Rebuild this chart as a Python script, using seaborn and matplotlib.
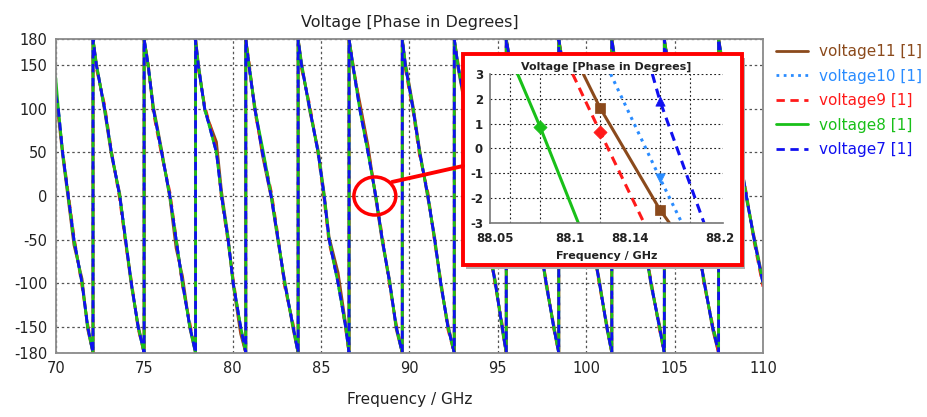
import matplotlib
matplotlib.use("Agg")
import matplotlib.pyplot as plt
import seaborn as sns
import pandas as pd
from matplotlib.patches import Rectangle, Ellipse
from matplotlib.lines import Line2D

# ---------------- data ----------------
freq_ghz = [
    70.00, 70.15, 70.39, 70.71, 71.03, 71.49, 71.81, 72.11,
    72.11, 72.30, 72.77, 73.15, 73.62, 73.95, 74.28, 74.66, 75.00,
    75.00, 75.23, 75.52, 75.99, 76.46, 76.81, 77.17, 77.59, 77.91,
    77.91, 78.06, 78.43, 79.09, 79.38, 79.75, 80.04, 80.46, 80.75,
    80.75, 80.94, 81.26, 81.69, 82.20, 82.58, 82.95, 83.43, 83.71,
    83.71, 83.90, 84.37, 84.84, 85.18, 85.46, 85.97, 86.40, 86.59,
    86.59, 86.81, 87.19, 87.66, 88.10, 88.47, 88.89, 89.26, 89.60,
    89.60, 89.77, 90.21, 90.58, 91.05, 91.43, 91.78, 92.18, 92.54,
    92.54, 92.75, 93.20, 93.60, 94.00, 94.42, 94.86, 95.25, 95.48,
    95.48, 95.72, 96.15, 96.55, 96.95, 97.35, 97.74, 98.16, 98.45,
    98.45, 98.68, 99.10, 99.50, 99.92, 100.33, 100.75, 101.17, 101.45,
    101.45, 101.66, 102.06, 102.46, 102.86, 103.26, 103.67, 104.14, 104.42,
    104.42, 104.64, 105.03, 105.45, 105.86, 106.27, 106.68, 107.15, 107.49,
    107.49, 107.72, 108.20, 108.64, 109.06, 109.50, 110.00,
]

phase_v11 = [
    104, 92, 47, -4, -56, -95, -153, -180,
    180, 152, 97, 47, 3, -52, -103, -148, -180,
    180, 148, 103, 53, -3, -60, -92, -152, -180,
    180, 153, 98, 62, 5, -47, -102, -158, -180,
    180, 147, 103, 47, -3, -53, -97, -153, -180,
    180, 153, 97, 53, 3, -47, -88, -147, -180,
    180, 147, 108, 58, -3, -53, -97, -153, -180,
    180, 153, 103, 53, -3, -47, -103, -147, -180,
    180, 147, 97, 47, 3, -53, -97, -153, -180,
    180, 153, 103, 53, -3, -47, -103, -147, -180,
    180, 147, 97, 47, 3, -53, -97, -152, -180,
    180, 153, 103, 53, -3, -47, -103, -147, -180,
    180, 147, 97, 47, 3, -53, -97, -153, -180,
    180, 153, 103, 53, -3, -47, -97,
]

phase_v10 = [
    118, 98, 50, 1, -49, -100, -150, -180,
    180, 151, 99, 50, 1, -49, -101, -150, -180,
    180, 149, 101, 50, -1, -50, -99, -151, -180,
    180, 151, 99, 51, 1, -49, -101, -150, -180,
    180, 149, 101, 50, -1, -51, -99, -150, -180,
    180, 151, 99, 50, 1, -49, -101, -151, -180,
    180, 149, 101, 51, -1, -50, -99, -150, -180,
    180, 151, 99, 50, 1, -51, -101, -149, -180,
    180, 149, 101, 50, -1, -49, -99, -151, -180,
    180, 151, 99, 51, 1, -50, -101, -150, -180,
    180, 149, 101, 50, -1, -51, -99, -149, -180,
    180, 151, 99, 49, 1, -49, -101, -151, -180,
    180, 149, 101, 50, -1, -50, -99, -150, -180,
    180, 151, 99, 50, 1, -49, -101,
]

phase_v9 = [
    122, 95, 52, 3, -46, -104, -147, -180,
    180, 146, 104, 52, -4, -54, -97, -152, -180,
    180, 152, 96, 47, 4, -48, -103, -146, -180,
    180, 146, 103, 54, -3, -53, -96, -153, -180,
    180, 153, 97, 52, 4, -47, -104, -147, -180,
    180, 146, 104, 48, -4, -54, -96, -153, -180,
    180, 152, 104, 54, 0, -46, -104, -147, -180,
    180, 146, 97, 46, 4, -53, -97, -153, -180,
    180, 153, 103, 53, -3, -47, -103, -147, -180,
    180, 147, 97, 47, 3, -53, -97, -152, -180,
    180, 153, 103, 53, -3, -47, -103, -148, -180,
    180, 147, 97, 47, 4, -53, -97, -153, -180,
    180, 152, 103, 53, -3, -47, -103, -147, -180,
    180, 147, 97, 47, 3, -53, -104,
]

phase_v8 = [
    136, 100, 50, 0, -50, -100, -150, -180,
    180, 150, 100, 50, 0, -50, -100, -150, -180,
    180, 150, 100, 50, 0, -50, -100, -150, -180,
    180, 150, 100, 50, 0, -50, -100, -150, -180,
    180, 150, 100, 56, 0, -50, -100, -150, -180,
    180, 150, 100, 50, 0, -50, -100, -150, -180,
    180, 150, 100, 50, 0, -50, -100, -150, -180,
    180, 150, 100, 50, 0, -50, -100, -150, -180,
    180, 150, 100, 50, 0, -50, -100, -150, -180,
    180, 150, 100, 50, 0, -50, -100, -150, -180,
    180, 150, 100, 50, 0, -50, -100, -150, -180,
    180, 150, 100, 50, 0, -50, -100, -150, -180,
    180, 150, 100, 50, 0, -50, -100, -150, -174,
    180, 150, 100, 50, 0, -50, -100,
]

phase_v7 = [
    116, 100, 50, 0, -50, -100, -150, -180,
    180, 150, 100, 50, 0, -50, -100, -150, -180,
    180, 150, 100, 50, 0, -50, -100, -150, -180,
    180, 150, 100, 50, 0, -50, -100, -150, -180,
    180, 148, 100, 50, -2, -50, -100, -150, -180,
    180, 150, 100, 50, 0, -50, -100, -150, -180,
    180, 150, 100, 50, 0, -50, -100, -150, -180,
    180, 150, 100, 50, 0, -50, -100, -150, -180,
    180, 150, 100, 50, 0, -50, -100, -150, -180,
    180, 150, 100, 50, 0, -50, -100, -150, -180,
    180, 150, 100, 50, 0, -50, -100, -150, -180,
    180, 150, 100, 50, 0, -50, -100, -150, -180,
    180, 150, 100, 50, 0, -50, -100, -150, -180,
    180, 150, 100, 50, 0, -50, -100,
]

# zoomed inset (around 88.1 GHz, +-3 degrees)
inset_f_v11 = [88.1089, 88.12, 88.16, 88.1662]
inset_p_v11 = [3.0, 1.64, -2.48, -3.0]
inset_f_v10 = [88.1271, 88.16, 88.1745]
inset_p_v10 = [3.0, -1.21, -3.0]
inset_f_v9 = [88.1018, 88.12, 88.1493]
inset_p_v9 = [3.0, 0.67, -3.0]
inset_f_v8 = [88.0651, 88.08, 88.1055]
inset_p_v8 = [3.0, 0.88, -3.0]
inset_f_v7 = [88.1549, 88.16, 88.1893]
inset_p_v7 = [3.0, 1.91, -3.0]

series_labels = ["voltage11 [1]", "voltage10 [1]", "voltage9 [1]", "voltage8 [1]", "voltage7 [1]"]
series_colors = ["#8B4A1C", "#2A8CFF", "#FF1A1A", "#19C019", "#1010F0"]
series_styles = ["-", (0, (1, 1.6)), (0, (3, 2)), "-", (0, (3, 2))]
main_phases = [phase_v11, phase_v10, phase_v9, phase_v8, phase_v7]
inset_fs = [inset_f_v11, inset_f_v10, inset_f_v9, inset_f_v8, inset_f_v7]
inset_ps = [inset_p_v11, inset_p_v10, inset_p_v9, inset_p_v8, inset_p_v7]
inset_markers = ["s", "v", "D", "D", "^"]
inset_marker_idx = [[1, 2], [1], [1], [1], [1]]

main_xticks = [70, 75, 80, 85, 90, 95, 100, 105, 110]
main_yticks = [-180, -150, -100, -50, 0, 50, 100, 150, 180]
inset_xlabels = [88.05, 88.1, 88.14, 88.2]
inset_xgrid = [88.06, 88.08, 88.10, 88.12, 88.14, 88.16, 88.18]
inset_yticks = [-3, -2, -1, 0, 1, 2, 3]

# ---------------- figure ----------------
sns.set_theme(style="white")
plt.rcParams["font.family"] = ["DejaVu Sans"]
plt.rcParams["axes.unicode_minus"] = False

W, H = 928, 417
fig = plt.figure(figsize=(W / 100, H / 100), dpi=100)

def fx(px):
    return px / W

def fy(py):
    return 1 - py / H

ax = fig.add_axes([fx(55.7), fy(353), fx(763) - fx(55.7), fy(39) - fy(353)])
grid_kw = dict(color="#555555", linewidth=0.9, linestyle=(0, (2, 2.2)))

for lbl, col, ls, ph in zip(series_labels, series_colors, series_styles, main_phases):
    df = pd.DataFrame({"f": freq_ghz, "p": ph})
    sns.lineplot(data=df, x="f", y="p", ax=ax, color=col, linestyle=ls,
                 linewidth=2.0, sort=False, estimator=None, legend=False)

ax.set_xlim(70, 110)
ax.set_ylim(-180, 180)
ax.set_xticks(main_xticks)
ax.set_yticks(main_yticks)
ax.grid(True, **grid_kw)
for s in ax.spines.values():
    s.set_color("#8a8a8a")
    s.set_linewidth(1.3)
ax.tick_params(direction="out", length=4, width=1, color="#8a8a8a",
               labelsize=10.5, labelcolor="#222222", pad=2)
ax.set_xlabel("Frequency / GHz", fontsize=11, color="#222222", labelpad=11)
ax.set_ylabel("")
ax.set_title("Voltage [Phase in Degrees]", fontsize=11.5, color="#222222", pad=9)

# legend
handles = [Line2D([0], [0], color=c, linestyle=ls, linewidth=2.0)
           for c, ls in zip(series_colors, series_styles)]
leg = fig.legend(handles, series_labels, loc="upper left",
                 bbox_to_anchor=(fx(770), fy(38)), frameon=False,
                 fontsize=11, handlelength=2.1, handletextpad=0.7,
                 labelspacing=0.62, borderaxespad=0)
for t, c in zip(leg.get_texts(), series_colors):
    t.set_color(c)

# red circle and connector
circ = Ellipse((88.05, 0), width=2.37, height=43.6, fill=False,
               edgecolor="#FF0000", linewidth=2.5, zorder=10, clip_on=False)
ax.add_patch(circ)
fig.add_artist(Line2D([fx(392), fx(463)], [fy(182), fy(166)],
                      color="#FF0000", linewidth=2.8, zorder=3))

# inset frame (shadow + white box with red edge)
fig.add_artist(Rectangle((fx(466), fy(269)), fx(742) - fx(463), fy(54) - fy(265),
                         transform=fig.transFigure, facecolor="#b0b0b0",
                         edgecolor="none", zorder=1.5))
fig.add_artist(Rectangle((fx(463), fy(265)), fx(742) - fx(463), fy(54) - fy(265),
                         transform=fig.transFigure, facecolor="white",
                         edgecolor="#FF0000", linewidth=2.8, zorder=2))

ins = fig.add_axes([fx(490), fy(222.7), fx(722.7) - fx(490), fy(74) - fy(222.7)],
                   zorder=4)
ins.set_facecolor("white")
for lbl, col, ls, xf, yp, mk, mi in zip(series_labels, series_colors, series_styles,
                                        inset_fs, inset_ps, inset_markers, inset_marker_idx):
    df = pd.DataFrame({"f": xf, "p": yp})
    sns.lineplot(data=df, x="f", y="p", ax=ins, color=col, linestyle=ls,
                 linewidth=2.2, sort=False, estimator=None, legend=False)
    dm = df.iloc[mi]
    sns.scatterplot(data=dm, x="f", y="p", ax=ins, color=col, marker=mk,
                    s=60 if mk == "s" else 45, edgecolor=col, linewidth=0.5,
                    legend=False, zorder=5)

ins.set_xlim(88.0467, 88.2018)
ins.set_ylim(-3, 3)
ins.set_xticks(inset_xgrid, minor=True)
ins.set_xticks(inset_xlabels)
ins.set_xticklabels(["88.05", "88.1", "88.14", "88.2"])
ins.set_yticks(inset_yticks)
ins.grid(False)
ins.grid(True, which="minor", axis="x", color="#222222", linewidth=0.8,
         linestyle=(0, (1.6, 2.2)))
ins.grid(True, which="major", axis="y", color="#222222", linewidth=0.8,
         linestyle=(0, (1.6, 2.2)))
ins.spines["top"].set_visible(False)
ins.spines["right"].set_visible(False)
for s in ("left", "bottom"):
    ins.spines[s].set_color("#777777")
    ins.spines[s].set_linewidth(1.2)
ins.tick_params(axis="x", which="major", length=0, labelsize=8.5, pad=7,
                labelcolor="#222222")
ins.tick_params(axis="x", which="minor", direction="out", length=3, color="#555555")
ins.tick_params(axis="y", direction="out", length=3, color="#555555",
                labelsize=8.5, labelcolor="#222222", pad=2)
for t in ins.get_xticklabels() + ins.get_yticklabels():
    t.set_fontweight("bold")
ins.set_xlabel("Frequency / GHz", fontsize=8, fontweight="bold", color="#222222",
               labelpad=4)
ins.set_ylabel("")
ins.set_title("Voltage [Phase in Degrees]", fontsize=8, fontweight="bold",
              color="#222222", pad=3)

fig.savefig("out.png", dpi=100)
